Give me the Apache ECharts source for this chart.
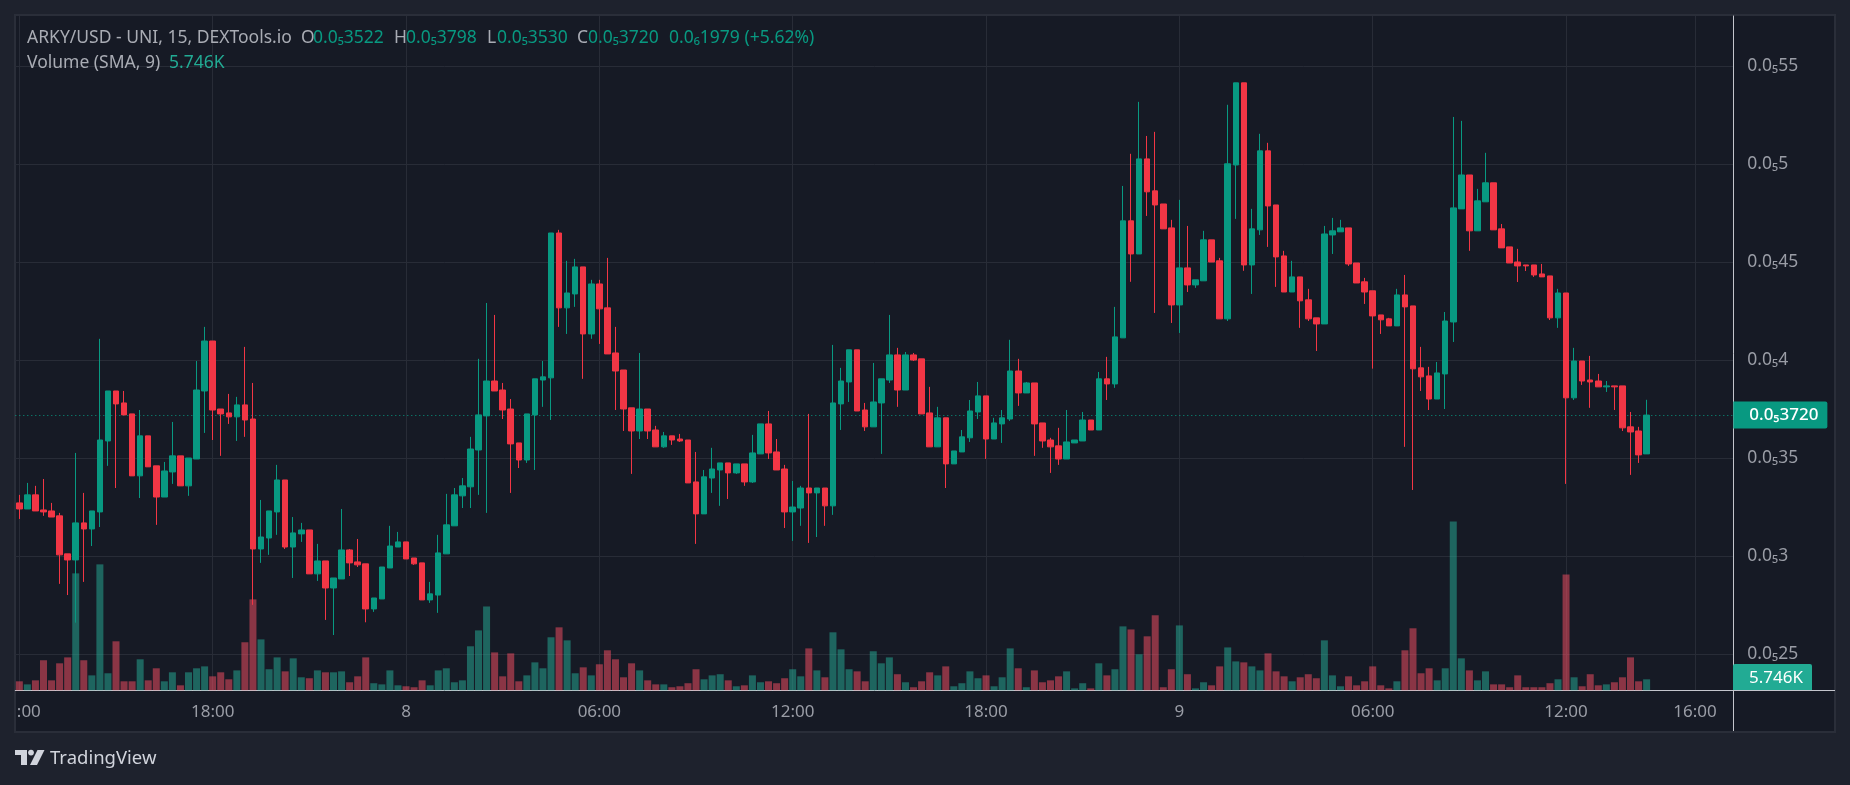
<!DOCTYPE html>
<html><head><meta charset="utf-8">
<style>html,body{margin:0;padding:0;background:#1e222d}#c{width:1850px;height:785px}</style>
<script src="https://cdn.jsdelivr.net/npm/echarts@6/dist/echarts.min.js"></script>
</head><body><div id="c"></div>
<script>
// Prices are in units of 1e-9 USD, so 3720 reads as 0.0₅3720. Volumes are in thousands.
const opens = [
3272,3241,3313,3236,3231,3206,3012,2981,3170,3139,3226,3588,3843,3782,3726,3410,3614,3461,3302,3430,
3512,3359,3496,3843,4098,3751,3731,3711,3772,3700,3037,3093,3226,3389,3047,3114,3134,2910,2976,2838,
2884,3032,2971,2961,2731,2782,2940,3047,3073,2991,2966,2777,2802,3012,3155,3308,3354,3542,3716,3894,
3848,3751,3578,3491,3721,3899,3910,4649,4267,4338,4476,4134,4389,4267,4037,3950,3757,3639,3751,3644,
3558,3614,3598,3593,3379,3216,3399,3440,3476,3425,3471,3379,3522,3675,3532,3445,3226,3246,3348,3323,
3348,3257,3777,3889,4053,3746,3660,3782,3899,4027,3848,4027,4007,3731,3558,3706,3471,3532,3604,3736,
3818,3598,3675,3700,3945,3833,3884,3680,3593,3563,3496,3578,3588,3695,3644,3905,3879,4114,4711,4542,
5027,4864,4797,4675,4282,4471,4384,4405,4614,4507,4211,4996,5415,4486,4665,5068,4792,4532,4348,4425,
4308,4216,4185,4639,4655,4675,4496,4400,4354,4231,4211,4175,4333,4277,3961,3920,3802,3930,4195,4772,
4945,4660,4808,4905,4670,4578,4501,4486,4486,4440,4430,4216,4343,3808,3996,3899,3894,3864,3869,3869,
3660,3639,3522];
const closes = [
3241,3313,3231,3226,3200,3007,2981,3170,3139,3231,3593,3843,3777,3721,3410,3614,3456,3302,3435,3512,
3359,3501,3848,4098,3746,3726,3711,3772,3695,3037,3098,3231,3389,3047,3119,3134,2910,2976,2838,2889,
3032,2966,2956,2731,2787,2945,3052,3073,2986,2961,2777,2808,3017,3160,3313,3359,3547,3721,3894,3843,
3746,3573,3491,3726,3905,3915,4649,4267,4343,4476,4134,4389,4262,4032,3945,3751,3639,3751,3639,3558,
3614,3593,3588,3374,3216,3405,3445,3476,3425,3471,3379,3527,3675,3527,3440,3226,3251,3348,3323,3348,
3257,3782,3894,4053,3741,3660,3787,3905,4027,3848,4027,4001,3726,3558,3706,3471,3537,3609,3741,3818,
3598,3680,3706,3945,3833,3884,3675,3588,3558,3496,3583,3593,3695,3644,3905,3879,4119,4711,4542,5027,
4859,4792,4670,4282,4471,4384,4410,4614,4501,4211,5002,5415,4486,4670,5068,4787,4527,4348,4425,4303,
4211,4185,4644,4660,4675,4491,4394,4348,4226,4206,4175,4333,4272,3956,3915,3802,3935,4200,4777,4945,
4660,4813,4905,4665,4573,4496,4481,4481,4435,4425,4216,4343,3808,3996,3894,3889,3864,3869,3864,3655,
3634,3517,3720];
const lows = [
3190,3241,3231,3206,3200,2859,2802,2661,2869,3052,3149,3461,3348,3721,3410,3297,3456,3160,3302,3369,
3359,3308,3496,3629,3593,3512,3675,3588,3609,2752,2966,3007,3109,3037,2889,3073,2910,2874,2675,2598,
2884,2899,2945,2663,2716,2782,2940,3047,2986,2956,2777,2762,2711,3012,3155,3246,3246,3313,3221,3843,
3700,3323,3450,3476,3440,3762,3695,4170,4134,4272,3905,4109,4083,4032,3746,3639,3420,3598,3598,3558,
3553,3568,3583,3374,3063,3216,3323,3257,3292,3420,3359,3374,3522,3496,3440,3144,3078,3155,3068,3098,
3155,3211,3644,3787,3741,3639,3660,3522,3884,3762,3848,3996,3726,3558,3558,3348,3471,3532,3583,3700,
3496,3598,3578,3690,3767,3833,3512,3553,3425,3466,3496,3578,3588,3644,3644,3797,3859,4114,4400,4542,
4736,4241,4670,4190,4139,4348,4369,4405,4501,4211,4200,4721,4456,4338,4639,4578,4374,4348,4348,4165,
4200,4047,4185,4542,4655,4481,4394,4287,3957,4134,4175,4175,3558,3338,3843,3746,3802,3751,4093,4772,
4558,4660,4808,4665,4573,4496,4399,4455,4425,4425,4205,4165,3369,3797,3874,3757,3864,3838,3746,3639,
3415,3476,3522];
const highs = [
3313,3374,3359,3394,3272,3221,3012,3527,3323,3231,4109,3843,3843,3843,3726,3746,3614,3461,3481,3685,
3512,3501,3996,4170,4098,3751,3828,3813,4068,3884,3287,3231,3466,3389,3200,3170,3134,3063,2976,2889,
3241,3037,3088,2961,2787,2945,3155,3124,3073,2991,2966,2869,3109,3318,3348,3399,3609,4007,4292,4231,
3884,3802,3578,3726,3905,3996,4649,4665,4507,4517,4476,4410,4410,4522,4170,3950,3757,4037,3751,3665,
3634,3614,3624,3593,3532,3440,3553,3476,3476,3471,3471,3619,3675,3741,3598,3466,3384,3359,3726,3348,
3348,4078,3961,4053,4053,3782,3986,3905,4231,4063,4042,4037,4007,3864,3762,3706,3537,3644,3797,3889,
3818,3706,3746,4104,4007,3889,3884,3680,3604,3655,3746,3593,3736,3695,3940,4017,4272,4889,5053,5318,
5144,5165,4797,4716,4818,4685,4410,4660,4614,4522,5303,5415,5415,4772,5155,5109,4792,4558,4507,4425,
4364,4216,4685,4726,4716,4675,4496,4420,4354,4231,4216,4364,4435,4277,4068,3966,3991,4246,5241,5221,
4945,4874,5058,4905,4695,4578,4568,4486,4486,4491,4430,4364,4343,4063,3996,4022,3930,3894,3869,3869,
3736,3660,3798];
const volumes = [
4.7,3.1,5.2,15.7,5.2,14.1,17.2,61.1,15.7,7.8,65.8,8.9,25.6,4.7,4.7,16.2,5.2,11.5,4.7,9.4,
2.6,9.4,11.5,12.5,7.3,9.4,5.75,10.4,25.1,47.5,26.6,11,17.2,9.9,16.7,6.8,6.3,10.4,9.4,9.4,
9.9,4.2,7.3,17.2,3.7,3.1,10.4,2.6,2.1,1.6,5.2,2.6,10.4,11.5,4.2,5.2,23,31.3,43.8,19.8,
7.3,19.3,4.7,7.8,14.6,11.5,27.7,32.9,26.1,8.9,12,7.8,13.6,20.9,16.2,6.8,14.1,10.4,5.2,3.1,
3.1,1.6,2.1,3.7,11,5.75,7.8,8.4,5.2,2.1,2.6,7.8,4.2,4.7,3.7,6.3,11,7.3,21.9,10.4,
6.8,30.3,21.4,11,9.9,4.7,20.4,14.1,17.2,8.4,4.2,1.6,4.7,9.4,7.8,12.5,2.1,3.7,9.9,6.3,
7.8,2.1,6.8,21.9,11.5,1.6,10.4,4.2,5.2,7.3,9.9,1,3.7,1,14.1,7.8,11,33.4,31.8,18.8,
28.2,39.2,1.6,11,33.9,8.4,1,4.2,2.6,12.5,22.4,15.1,14.6,12.5,10.4,19.3,9.9,7.3,4.7,6.8,
8.4,6.3,26.1,7.8,2.1,7.3,2.6,4.7,12.5,2.6,1,4.7,20.9,32.4,8.9,11.5,5.2,11.5,88.2,16.7,
10.4,5.2,9.9,3.1,3.1,1.6,7.8,1.6,1.6,1.6,3.7,5.75,60.5,6.8,2.1,8.4,2.6,3.1,4.2,6.8,
17.2,4.7,5.746];
const timeTicks  = [0,24,48,72,96,120,144,168,192,208];
const timeLabels = [':00','18:00','8','06:00','12:00','18:00','9','06:00','12:00','16:00'];
const priceTicks = [2500,3000,3500,4000,4500,5000,5500];
const lastPrice = 3720;

const UP='#089981', DOWN='#f23645', FONT='"Noto Sans",sans-serif';
const VOL_UP='rgba(38,176,153,0.5)', VOL_DOWN='rgba(254,80,101,0.5)';
const GREY='#9a9da6', HEAD='#a9acb4', LINE='#282c37', BRIGHT='#c3c5cc';
const tickText = v => '0.0\u2085' + String(v/100).replace(/0$/,'');
const lastText = v => '0.0\u2085' + String(v);

const candles = opens.map((o,i)=>[i,o,closes[i],lows[i],highs[i]]);
const vols = volumes.map((v,i)=>({value:[i,v],itemStyle:{color:closes[i]>=opens[i]?VOL_UP:VOL_DOWN}}));

function txt(x,y,text,fill,size,extra){
  return Object.assign({type:'text',x,y,silent:true,z:20,
    style:{text,fill,font:(size||17.5)+'px '+FONT,verticalAlign:'middle'}},extra||{});
}
const graphic = [
  {type:'rect',z:-100,silent:true,shape:{x:15,y:15,width:1820,height:717},
   style:{fill:'#161a25',stroke:'#2a2e39',lineWidth:2}},
  {type:'line',z:20,silent:true,shape:{x1:1733.5,y1:690,x2:1733.5,y2:731},style:{stroke:BRIGHT,lineWidth:1}},
  {type:'line',z:20,silent:true,shape:{x1:1733,y1:690.5,x2:1835,y2:690.5},style:{stroke:BRIGHT,lineWidth:1}},
  txt(27,38,'ARKY/USD - UNI, 15, DEXTools.io',HEAD),
  txt(301,38,'O',HEAD), txt(313,38,'0.0\u20853522',UP),
  txt(394,38,'H',HEAD), txt(406,38,'0.0\u20853798',UP),
  txt(487,38,'L',HEAD), txt(497,38,'0.0\u20853530',UP),
  txt(577,38,'C',HEAD), txt(588,38,'0.0\u20853720',UP),
  txt(669,38,'0.0\u20861979 (+5.62%)',UP),
  txt(27,63,'Volume (SMA, 9)',HEAD), txt(169,63,'5.746K','#22ab94'),
  {type:'rect',z:20,silent:true,shape:{x:1733,y:664,width:79,height:26,r:[2,2,0,0]},style:{fill:'#22ab94'}},
  txt(1749,678,'5.746K','#ffffff',17),
  {type:'polygon',z:20,silent:true,shape:{points:[[15,750],[27,750],[27,765],[21,765],[21,755],[15,755]]},style:{fill:'#d1d4dc'}},
  {type:'circle',z:20,silent:true,shape:{cx:31,cy:752.6,r:2.9},style:{fill:'#d1d4dc'}},
  {type:'polygon',z:20,silent:true,shape:{points:[[37.5,750],[44.5,750],[37,765],[30,765]]},style:{fill:'#d1d4dc'}},
  txt(50,759,'TradingView','#d1d4dc',18.5),
];

const chart = echarts.init(document.getElementById('c'),null,{renderer:'canvas'});
chart.setOption({
  animation:false,
  backgroundColor:'#1e222d',
  textStyle:{fontFamily:FONT},
  grid:{left:15.3,right:116.7,top:16,bottom:94.7,containLabel:false},
  graphic,
  xAxis:{type:'value',min:-0.5,max:212.76,position:'bottom',
    axisLine:{onZero:false,show:true,lineStyle:{color:BRIGHT,width:1}},
    axisTick:{show:false,customValues:timeTicks},
    splitLine:{show:true,lineStyle:{color:LINE,width:1}},
    axisLabel:{customValues:timeTicks,color:GREY,fontSize:17,margin:13,fontFamily:FONT,
      formatter:v=>{const s=timeLabels[timeTicks.indexOf(v)];return v===0?'{a|'+s+'}':s;},
      rich:{a:{color:GREY,fontSize:17,fontFamily:FONT,padding:[0,0,0,19]}}}
  },
  yAxis:[
    {type:'value',position:'right',min:2316,max:5756,scale:true,
     axisLine:{show:true,onZero:false,lineStyle:{color:BRIGHT,width:1}},
     axisTick:{show:false,customValues:priceTicks},
     splitLine:{show:true,lineStyle:{color:LINE,width:1}},
     axisLabel:{customValues:priceTicks,color:GREY,fontSize:17.5,margin:14,fontFamily:FONT,formatter:tickText}},
    {type:'value',position:'right',min:0,max:352.3,
     axisLine:{show:false,onZero:false},axisTick:{show:false},axisLabel:{show:false},splitLine:{show:false}}
  ],
  series:[
    {name:'Volume',type:'bar',yAxisIndex:1,data:vols,barWidth:7,z:1,silent:true},
    {name:'ARKY/USD',type:'candlestick',yAxisIndex:0,data:candles,barWidth:6,z:3,silent:true,
     itemStyle:{color:UP,color0:DOWN,borderColor:UP,borderColor0:DOWN,borderWidth:1},
     markLine:{silent:true,symbol:'none',z:1,animation:false,
       lineStyle:{color:UP,type:[1,3],width:1},
       label:{show:true,position:'end',distance:0,formatter:()=>lastText(lastPrice),color:'#fff',fontSize:17,fontWeight:500,lineHeight:18,fontFamily:FONT,
         backgroundColor:UP,borderRadius:[0,2,2,0],padding:[5,9,4,16]},
       emphasis:{disabled:true},
       data:[{yAxis:lastPrice}]}}
  ]
});
</script></body></html>
